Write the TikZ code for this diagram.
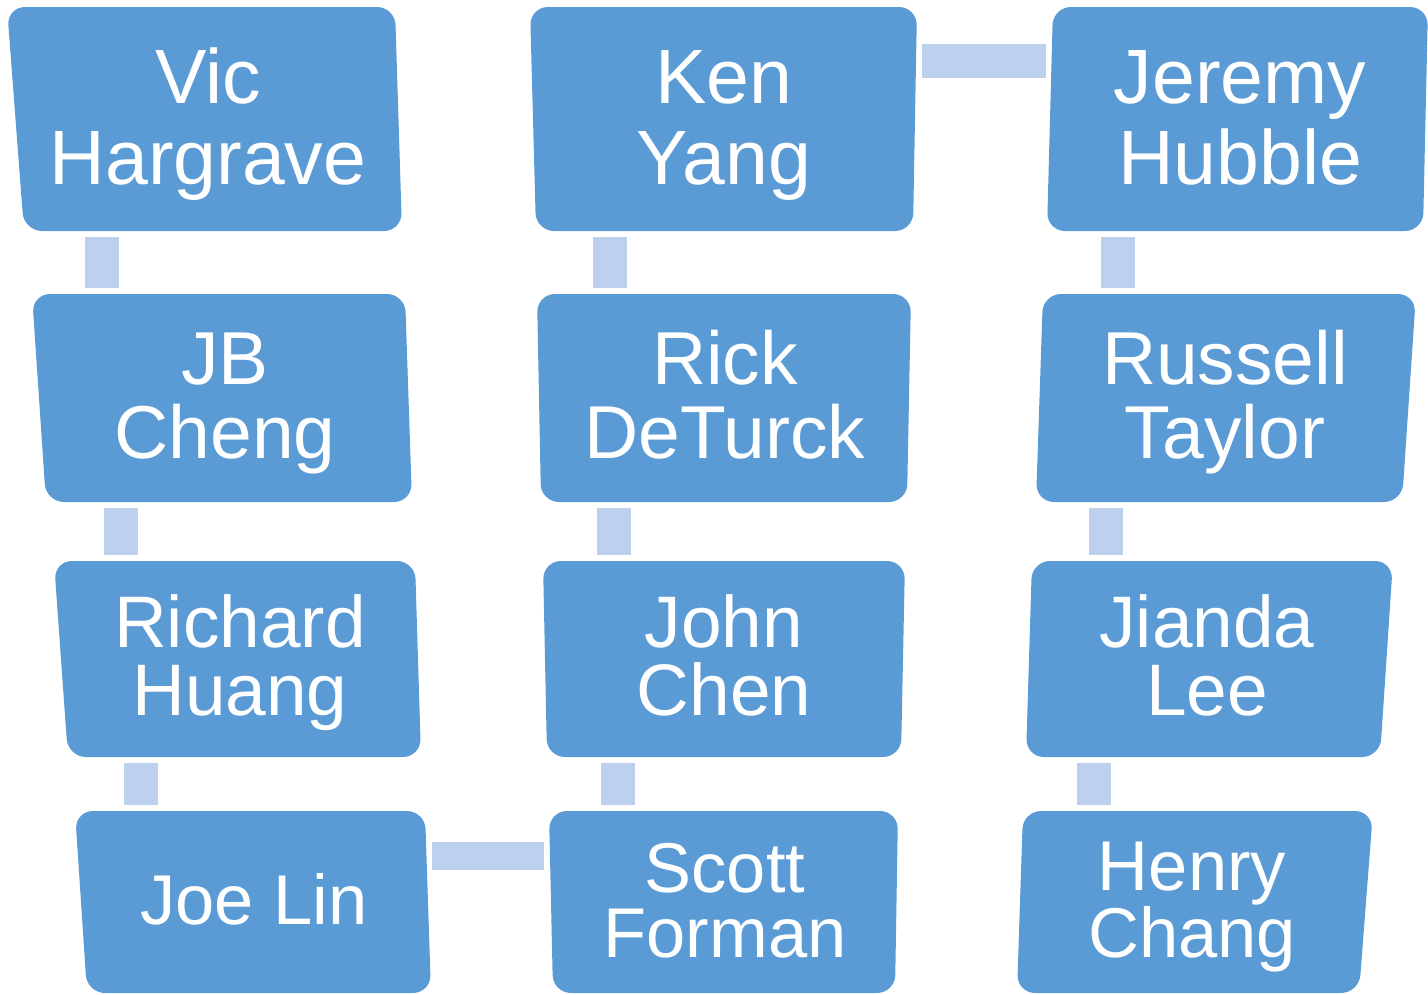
\documentclass[tikz,border=0pt]{standalone}
\usepackage{fontspec}
\setmainfont{Liberation Sans}
\usepackage{xcolor}
\definecolor{teamBlue}{HTML}{5A9BD6}
\definecolor{teamLight}{HTML}{BDD1EE}

\begin{document}
\begin{tikzpicture}[x=1pt, y=-1pt]
        % Styles
        \tikzstyle{plate} = [fill=teamBlue, rounded corners=18pt]
        \tikzstyle{member} = [text=white, align=center, inner sep=0pt, text depth=0pt, minimum width=340pt]
        \tikzstyle{rowA} = [font=\fontsize{77}{81}\selectfont, text height=130pt, minimum height=224pt]
        \tikzstyle{rowB} = [font=\fontsize{75}{74}\selectfont, text height=120pt, minimum height=208pt]
        \tikzstyle{rowC} = [font=\fontsize{73}{68}\selectfont, text height=112pt, minimum height=196pt]
        \tikzstyle{rowD} = [font=\fontsize{70.5}{65}\selectfont, text height=110pt, minimum height=182pt]
        \tikzstyle{link} = [draw=teamLight, line width=34pt, shorten <=6pt, shorten >=6pt]

        \useasboundingbox (0,0) rectangle (1428,994);

        % Plates
        \fill[plate] (7,7) -- (395,7) -- (402,231) -- (24,231) -- cycle;
        \fill[plate] (32,294) -- (405,294) -- (412,502) -- (46,502) -- cycle;
        \fill[plate] (54,561) -- (415,561) -- (421,757) -- (68,757) -- cycle;
        \fill[plate] (75,811) -- (425,811) -- (431,993) -- (87,993) -- cycle;

        \fill[plate] (530,7) -- (917,7) -- (913,231) -- (536,231) -- cycle;
        \fill[plate] (537,294) -- (911,294) -- (907,502) -- (541,502) -- cycle;
        \fill[plate] (543,561) -- (905,561) -- (901,757) -- (547,757) -- cycle;
        \fill[plate] (549,811) -- (898,811) -- (895,993) -- (553,993) -- cycle;

        \fill[plate] (1053,7) -- (1428,7) -- (1423,231) -- (1047,231) -- cycle;
        \fill[plate] (1043,294) -- (1416,294) -- (1402,502) -- (1036,502) -- cycle;
        \fill[plate] (1032,561) -- (1393,561) -- (1380,757) -- (1026,757) -- cycle;
        \fill[plate] (1023,811) -- (1373,811) -- (1359,993) -- (1017,993) -- cycle;

        % Nodes
        \node[member, rowA] (vic) at (208,119) {Vic\\Hargrave};
        \node[member, rowB] (jb) at (225,398) {JB\\Cheng};
        \node[member, rowC] (richard) at (240,659) {Richard\\Huang};
        \node[member, rowD, text height=44pt, minimum width=346pt] (joe) at (254,902) {Joe Lin};

        \node[member, rowA, minimum width=384pt] (ken) at (724,119) {Ken\\Yang};
        \node[member, rowB] (rick) at (725,398) {Rick\\DeTurck};
        \node[member, rowC] (john) at (724,659) {John\\Chen};
        \node[member, rowD, minimum width=350pt] (scott) at (725,902) {Scott\\Forman};

        \node[member, rowA, minimum width=388pt] (jeremy) at (1240,119) {Jeremy\\Hubble};
        \node[member, rowB] (russell) at (1225,398) {Russell\\Taylor};
        \node[member, rowC] (jianda) at (1207,659) {Jianda\\Lee};
        \node[member, rowD] (henry) at (1192,902) {Henry\\Chang};

        % Links
        \draw[link] ([xshift=-106pt]vic.south) -- ([xshift=-106pt]vic.south |- jb.north);
        \draw[link] ([xshift=-104pt]jb.south) -- ([xshift=-104pt]jb.south |- richard.north);
        \draw[link] ([xshift=-99pt]richard.south) -- ([xshift=-99pt]richard.south |- joe.north);
        \draw[link, line width=28pt, shorten <=5pt] ([yshift=46pt]joe.east) -- ([yshift=46pt]joe.east -| scott.west);

        \draw[link] ([xshift=-114pt]ken.south) -- ([xshift=-114pt]ken.south |- rick.north);
        \draw[link] ([xshift=-111pt]rick.south) -- ([xshift=-111pt]rick.south |- john.north);
        \draw[link] ([xshift=-106pt]john.south) -- ([xshift=-106pt]john.south |- scott.north);
        \draw[link, shorten >=0pt] ([yshift=58pt]ken.east) -- ([yshift=58pt]ken.east -| jeremy.west);

        \draw[link] ([xshift=-122pt]jeremy.south) -- ([xshift=-122pt]jeremy.south |- russell.north);
        \draw[link] ([xshift=-119pt]russell.south) -- ([xshift=-119pt]russell.south |- jianda.north);
        \draw[link] ([xshift=-113pt]jianda.south) -- ([xshift=-113pt]jianda.south |- henry.north);

\end{tikzpicture}
\end{document}
